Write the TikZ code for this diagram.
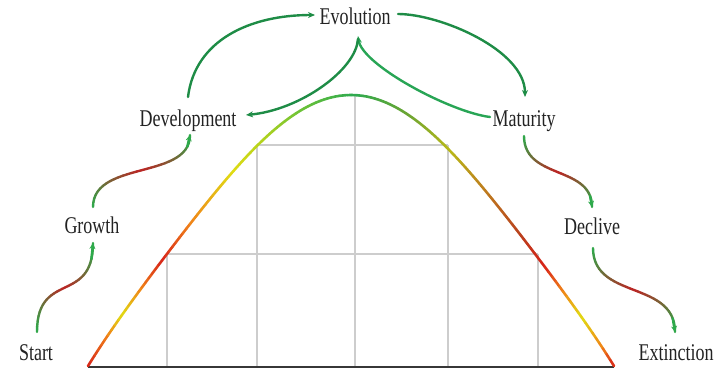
\documentclass[tikz,border=0pt]{standalone}
\usepackage{fontspec}
\setmainfont{Liberation Serif}[FakeStretch=0.75]
\usetikzlibrary{calc,arrows.meta}
\definecolor{txt}{RGB}{35,35,35}
\definecolor{gridc}{RGB}{205,205,205}
\definecolor{basec}{RGB}{55,55,55}
\definecolor{ggreen}{RGB}{45,170,75}
\definecolor{gred}{RGB}{190,35,35}
\definecolor{arcA}{RGB}{30,140,70}
\definecolor{arcB}{RGB}{40,165,85}
\definecolor{cRed}{RGB}{215,35,25}
\definecolor{cOrange}{RGB}{240,130,25}
\definecolor{cYellow}{RGB}{225,220,20}
\definecolor{cYG}{RGB}{175,210,30}
\definecolor{cLG}{RGB}{110,195,55}
\definecolor{cGreen}{RGB}{45,170,80}
\definecolor{cOlive}{RGB}{110,165,50}
\definecolor{cYO}{RGB}{185,185,25}
\definecolor{cOB}{RGB}{190,125,30}
\definecolor{cBR}{RGB}{185,65,30}
\newcommand\gradcurve[4]{%
  \foreach \i in {0,...,30}{%
    \path #1 .. controls #2 and #3 .. #4 coordinate[pos=\i/30] (gq\i);
  }%
  \foreach \i in {0,...,29}{%
    \pgfmathtruncatemacro\j{\i+1}%
    \pgfmathtruncatemacro\p{100*(1-abs(2*(\i+0.5)/30-1))}%
    \colorlet{gqc}{gred!\p!ggreen}%
    \draw[gqc, gline] (gq\i) -- (gq\j);
  }%
  \draw[ggreen, gline, -{Stealth[length=6pt,width=6pt]}] (gq27) -- (gq30);
}
\begin{document}
\begin{tikzpicture}[x=1pt,y=-1pt,
  declare function={cu(\x)=(\x-351)/263;
    hy(\x)=366-271*cos(90*cu(\x))*(1-0.36*cu(\x)*cu(\x)*(1-cu(\x)*cu(\x)));},
  lbl/.style={inner sep=0pt, anchor=base, font=\fontsize{24}{28}\selectfont, text=txt},
  gridline/.style={draw=gridc, line width=1.3pt},
  gline/.style={line width=2.4pt, line cap=round},
  arcline/.style={line width=2.4pt, line cap=round, -{Stealth[length=7pt,width=6pt]}},
  curvestyle/.style={line width=2.6pt, line cap=round}]
\useasboundingbox (0,0) rectangle (728,369);
% labels
\node[lbl] (start) at (36,360) {Start};
\node[lbl] (growth) at (92,233) {Growth};
\node[lbl] (dev) at (188,126) {Development};
\node[lbl] (evo) at (355,25) {Evolution};
\node[lbl] (mat) at (524,126) {Maturity};
\node[lbl] (dec) at (592,234) {Declive};
\node[lbl] (ext) at (676,360) {Extinction};
% grid
\draw[gridline] (167,254) -- (538,254);
\draw[gridline] (257,145) -- (448,145);
\draw[gridline] (167,254) -- (167,366);
\draw[gridline] (257,145) -- (257,366);
\draw[gridline] (355,95) -- (355,366);
\draw[gridline] (448,145) -- (448,366);
\draw[gridline] (538,254) -- (538,366);
\draw[basec, line width=2pt] (88,366.5) -- (614,366.5);
% main curve with gradient
\foreach \xa/\xb/\ca/\cb in {88/108/cRed/cOrange, 108/122/cOrange/cYellow,
  122/142/cYellow/cOrange, 142/162/cOrange/cRed, 162/190/cRed/cOrange,
  190/232/cOrange/cYellow, 232/265/cYellow/cYG, 265/300/cYG/cLG,
  300/355/cLG/cGreen, 355/410/cGreen/cOlive, 410/450/cOlive/cYO,
  450/485/cYO/cOB, 485/520/cOB/cBR, 520/545/cBR/cRed, 545/563/cRed/cOrange,
  563/582/cOrange/cYellow, 582/603/cYellow/cOrange, 603/614/cOrange/cRed}{%
  \pgfmathtruncatemacro\nn{int((\xb-\xa)/4)+1}%
  \foreach \k in {1,...,\nn}{%
    \pgfmathsetmacro\xs{\xa+(\xb-\xa)*(\k-1)/\nn}%
    \pgfmathsetmacro\xe{\xa+(\xb-\xa)*\k/\nn}%
    \pgfmathtruncatemacro\pp{100*(\k-0.5)/\nn}%
    \colorlet{segc}{\cb!\pp!\ca}%
    \draw[segc, curvestyle] (\xs,{hy(\xs)}) -- (\xe,{hy(\xe)});
  }%
}
% gradient S-arrows
\gradcurve{($(start.base)+(1,-28)$)}{($(start.base)+(1,-90)$)}{($(growth.base)+(1,72)$)}{($(growth.base)+(1,10)$)}
\gradcurve{($(growth.base)+(1,-26)$)}{($(growth.base)+(1,-73)$)}{($(dev.base)+(2,54)$)}{($(dev.base)+(2,9)$)}
\gradcurve{($(mat.base)+(0,10)$)}{($(mat.base)+(0,54)$)}{($(dec.base)+(0,-69)$)}{($(dec.base)+(0,-27)$)}
\gradcurve{($(dec.base)+(1,14)$)}{($(dec.base)+(1,66)$)}{($(ext.base)+(-1,-80)$)}{($(ext.base)+(-1,-28)$)}
% green arcs
\draw[arcA, arcline] ($(dev.base)+(0,-29)$) .. controls ($(dev.base)+(7,-86)$) and ($(evo.base)+(-105,-10)$) .. ($(evo.base)+(-40,-10)$);
\draw[arcA, arcline] ($(evo.base)+(43,-11)$) .. controls ($(evo.base)+(85,-11)$) and ($(mat.base)+(1,-76)$) .. ($(mat.base)+(1,-29)$);
\draw[arcB, arcline] ($(mat.base)+(-34,-9)$) .. controls ($(mat.base)+(-74,-14)$) and ($(evo.base)+(7,40)$) .. ($(evo.base)+(3,11)$);
\draw[arcA, arcline] ($(evo.base)+(3,14)$) .. controls ($(evo.base)+(1,45)$) and ($(dev.base)+(112,-16)$) .. ($(dev.base)+(58,-11)$);
\end{tikzpicture}
\end{document}
